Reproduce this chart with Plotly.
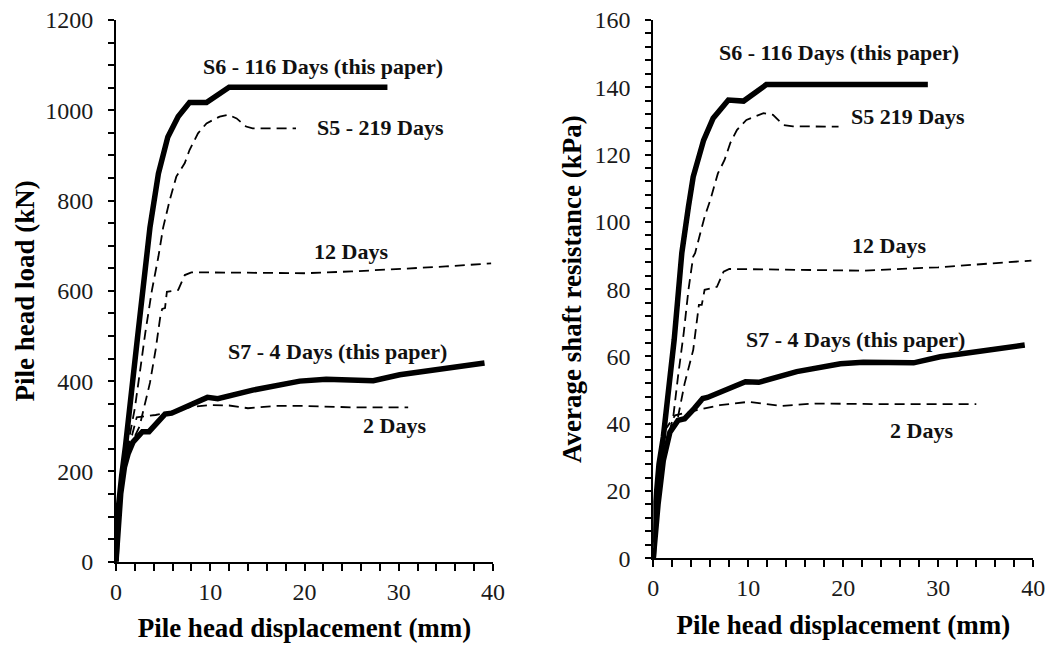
import plotly.graph_objects as go

# ---------------- data ----------------
# Left panel: pile head load (kN) vs pile head displacement (mm)
load_s6_x = [0, 0.2, 0.6, 1.0, 2.3, 3.6, 4.5, 5.5, 6.6, 7.8, 9.6, 12.0, 28.8]
load_s6_y = [0, 110, 190, 255, 500, 740, 860, 941, 986, 1017, 1017, 1051, 1051]

load_s5_x = [0, 0.3, 1.0, 2.0, 2.6, 3.1, 3.8, 4.5, 5.0, 5.7, 6.4, 7.3, 7.8, 8.7, 9.6, 11.0, 11.9, 12.8, 13.8, 14.5, 19.1]
load_s5_y = [0, 120, 230, 340, 430, 506, 600, 676, 740, 801, 853, 883, 912, 949, 971, 986, 990, 982, 964, 960, 960]

load_d12_x = [0, 0.3, 0.9, 1.6, 2.5, 3.1, 3.6, 4.2, 4.7, 4.9, 5.2, 5.4, 6.6, 7.3, 8.0, 15, 20, 25, 30, 35, 39.8]
load_d12_y = [0, 100, 200, 260, 300, 351, 396, 469, 543, 560, 562, 598, 602, 635, 641, 640, 639, 643, 648, 654, 661]

load_s7_x = [0, 0.2, 0.5, 0.9, 1.3, 1.8, 2.8, 3.5, 4.2, 5.2, 5.9, 7.8, 9.7, 10.8, 14.5, 19.5, 22.3, 27.3, 30.1, 39.1]
load_s7_y = [0, 80, 150, 210, 240, 265, 288, 288, 305, 327, 329, 347, 364, 361, 380, 400, 404, 401, 414, 440]

load_d2_x = [0, 0.4, 1.0, 1.7, 2.2, 4.2, 6.0, 8.0, 10, 12, 14, 17, 20, 25, 31]
load_d2_y = [0, 150, 240, 280, 320, 325, 333, 343, 347, 346, 340, 345, 345, 342, 342]

# Right panel: average shaft resistance (kPa) vs pile head displacement (mm)
shaft_s6_x = [0, 0.2, 0.6, 1.05, 2.2, 3.0, 3.7, 4.2, 5.3, 6.3, 7.9, 9.5, 11.9, 28.9]
shaft_s6_y = [0, 15, 28, 36, 65, 90.7, 104.5, 113.4, 124.3, 130.8, 136.2, 135.9, 140.8, 140.8]

shaft_s5_x = [0, 0.3, 1.0, 2.1, 2.6, 3.2, 3.7, 4.2, 4.4, 5.4, 6.0, 6.8, 7.5, 8.1, 8.8, 9.8, 11.6, 12.6, 13.7, 14.7, 19.5]
shaft_s5_y = [0, 15, 30, 42, 54, 66.9, 79.8, 89.7, 90.7, 101.5, 106.5, 114.4, 118.4, 123.4, 127.3, 130.3, 132.3, 131.8, 128.8, 128.4, 128.3]

shaft_d12_x = [0, 0.3, 0.9, 1.6, 2.6, 2.8, 3.3, 4.2, 4.6, 4.8, 5.1, 5.4, 6.7, 7.4, 8.0, 15, 22, 30, 39.8]
shaft_d12_y = [0, 12, 26, 35, 42, 45, 52, 61.9, 71.8, 75.3, 75.3, 79.8, 80.7, 85.2, 86, 85.8, 85.5, 86.5, 88.5]

shaft_s7_x = [0, 0.2, 0.5, 1.05, 1.75, 2.6, 3.3, 4.3, 5.2, 5.7, 8.1, 9.7, 11.1, 15.1, 19.7, 22.1, 27.4, 30.2, 39.1]
shaft_s7_y = [0, 8, 16, 29, 37.5, 41, 41.5, 44.5, 47.5, 47.8, 50.5, 52.5, 52.3, 55.5, 57.8, 58.3, 58.1, 59.9, 63.4]

shaft_d2_x = [0, 0.5, 1.2, 2.3, 4.5, 7.0, 10, 13.5, 17, 25, 34]
shaft_d2_y = [0, 25, 38, 42.5, 44, 45.5, 46.5, 45.3, 46, 45.8, 45.8]

# Curve labels: (text, x, y)
load_labels = [
    ("S6 - 116 Days (this paper)", 22.0, 1096),
    ("S5 - 219 Days", 28.1, 961),
    ("12 Days", 24.9, 687),
    ("S7 - 4 Days (this paper)", 23.5, 465),
    ("2 Days", 29.6, 301),
]
shaft_labels = [
    ("S6 - 116 Days (this paper)", 19.5, 150.2),
    ("S5 219 Days", 26.8, 131.2),
    ("12 Days", 24.8, 93.1),
    ("S7 - 4 Days (this paper)", 21.3, 64.9),
    ("2 Days", 28.2, 38.1),
]

x_title = "Pile head displacement (mm)"
y_title_left = "Pile head load (kN)"
y_title_right = "Average shaft resistance (kPa)"

# ---------------- styling ----------------
FONT = "Liberation Serif, Times New Roman, serif"
THICK = dict(color="black", width=5.5)
DASH = dict(color="black", width=1.8, dash="10px,6px")
TICKC = "black"

fig = go.Figure()

def add(x, y, line, xa, ya):
    fig.add_trace(go.Scatter(x=x, y=y, mode="lines", line=line, xaxis=xa, yaxis=ya,
                             showlegend=False, hoverinfo="skip"))

# left
add(load_d2_x, load_d2_y, DASH, "x", "y")
add(load_d12_x, load_d12_y, DASH, "x", "y")
add(load_s5_x, load_s5_y, DASH, "x", "y")
add(load_s7_x, load_s7_y, THICK, "x", "y")
add(load_s6_x, load_s6_y, THICK, "x", "y")
# right
add(shaft_d2_x, shaft_d2_y, DASH, "x2", "y2")
add(shaft_d12_x, shaft_d12_y, DASH, "x2", "y2")
add(shaft_s5_x, shaft_s5_y, DASH, "x2", "y2")
add(shaft_s7_x, shaft_s7_y, THICK, "x2", "y2")
add(shaft_s6_x, shaft_s6_y, THICK, "x2", "y2")

for text, x, y in load_labels:
    fig.add_annotation(text=f"<b>{text}</b>", x=x, y=y, xref="x", yref="y", showarrow=False,
                       font=dict(family=FONT, size=22, color="#111"))
for text, x, y in shaft_labels:
    fig.add_annotation(text=f"<b>{text}</b>", x=x, y=y, xref="x2", yref="y2", showarrow=False,
                       font=dict(family=FONT, size=22, color="#111"))

W, H = 1053, 648
def px_x(p): return p / W
def px_y(p): return 1 - p / H

TITLE_FONT = dict(family=FONT, size=27, color="black")
TICK_FONT = dict(family=FONT, size=24, color="#1a1a1a")

fig.update_layout(
    width=W, height=H, autosize=False,
    margin=dict(l=0, r=0, t=0, b=0),
    paper_bgcolor="white", plot_bgcolor="white",
    xaxis=dict(domain=[px_x(116), px_x(493)], anchor="y", range=[0, 40],
               title=dict(text=f"<b>{x_title}</b>", font=TITLE_FONT, standoff=15)),
    yaxis=dict(domain=[px_y(561.7), px_y(20)], anchor="x", range=[0, 1200],
               title=dict(text=f"<b>{y_title_left}</b>", font=TITLE_FONT, standoff=3)),
    xaxis2=dict(domain=[px_x(653.3), px_x(1033.3)], anchor="y2", range=[0, 40],
                title=dict(text=f"<b>{x_title}</b>", font=TITLE_FONT, standoff=15)),
    yaxis2=dict(domain=[px_y(558.3), px_y(20)], anchor="x2", range=[0, 160],
                title=dict(text=f"<b>{y_title_right}</b>", font=TITLE_FONT, standoff=5)),
)

fig.update_xaxes(tickmode="linear", tick0=0, dtick=10, showgrid=False, zeroline=False,
                 showline=True, linecolor="black", linewidth=2,
                 ticks="outside", ticklen=7, tickwidth=2, tickcolor=TICKC,
                 minor=dict(ticks="outside", ticklen=7, tickwidth=2, tickcolor=TICKC,
                            tickmode="linear", tick0=0, dtick=2, showgrid=False),
                 tickfont=TICK_FONT, automargin=False, fixedrange=True)
fig.update_yaxes(tickmode="linear", tick0=0, showgrid=False, zeroline=False,
                 showline=True, linecolor="black", linewidth=2,
                 ticks="outside", ticklen=6, tickwidth=2, tickcolor=TICKC,
                 tickfont=TICK_FONT, ticklabelstandoff=10, automargin=False, fixedrange=True)
fig.update_layout(
    yaxis=dict(dtick=200, minor=dict(ticks="outside", ticklen=6, tickwidth=2, tickcolor=TICKC,
                                     tickmode="linear", tick0=0, dtick=50, showgrid=False)),
    yaxis2=dict(dtick=20, minor=dict(ticks="outside", ticklen=6, tickwidth=2, tickcolor=TICKC,
                                     tickmode="linear", tick0=0, dtick=4, showgrid=False)),
)

fig.write_html("out.html")
